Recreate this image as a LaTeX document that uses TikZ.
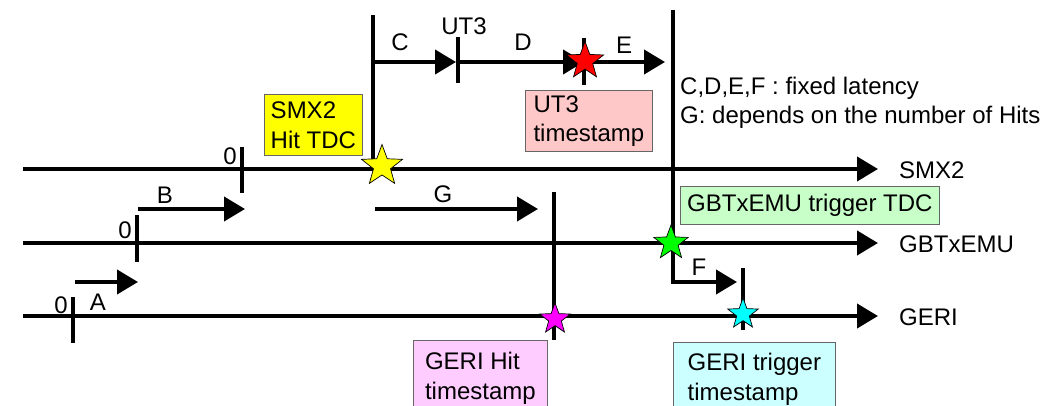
\documentclass[tikz,border=0pt]{standalone}
\usepackage{fontspec}
\setmainfont{Liberation Sans}
\usetikzlibrary{arrows.meta,shapes.geometric}

\definecolor{ut3pink}{HTML}{FFC8C8}
\definecolor{trggreen}{HTML}{C8FFC8}
\definecolor{geripink}{HTML}{FFCCFF}
\definecolor{gericyan}{HTML}{CCFFFF}
\definecolor{hityellow}{HTML}{FFFF00}
\definecolor{hitred}{HTML}{FF0000}
\definecolor{hitgreen}{HTML}{00FF00}
\definecolor{hitmagenta}{HTML}{FF00FF}
\definecolor{hitcyan}{HTML}{00FFFF}

\tikzset{
  tline/.style={line width=4pt},
  tarrow/.style={line width=4pt, -{Triangle[length=21pt,width=24pt]}},
  lbl/.style={inner sep=0pt, font=\fontsize{24}{29}\selectfont},
  infobox/.style={draw=black!60, line width=0.8pt, rectangle, align=left, anchor=north west, inner xsep=0pt, font=\fontsize{24}{30}\selectfont},
  hitstar/.style={star, star points=5, star point ratio=2.4, draw=black, line width=0.7pt, inner sep=0pt},
}

\begin{document}
\begin{tikzpicture}[x=1pt,y=-1pt]
\useasboundingbox (0,0) rectangle (1048,406);
\clip (0,0) rectangle (1048,406);

% time lines
\coordinate (smxL) at (23,169);  \coordinate (smxR) at (878,169);
\coordinate (gbtL) at (23,243);  \coordinate (gbtR) at (878,243);
\coordinate (geriL) at (23,316); \coordinate (geriR) at (878,316);
\draw[tarrow] (smxL) -- (smxR);
\draw[tarrow] (gbtL) -- (gbtR);
\draw[tarrow] (geriL) -- (geriR);
\node[lbl, anchor=west] (smx) at (899,170) {SMX2};
\node[lbl, anchor=west] (gbt) at (899,244) {GBTxEMU};
\node[lbl, anchor=west] (geri) at (899,317) {GERI};

% zero ticks and A, B
\coordinate (z1a) at (73,297);  \coordinate (z1b) at (73,343);
\coordinate (z2a) at (137,215); \coordinate (z2b) at (137,262);
\coordinate (z3a) at (242,147); \coordinate (z3b) at (242,193);
\draw[tline] (z1a) -- (z1b);
\draw[tline] (z2a) -- (z2b);
\draw[tline] (z3a) -- (z3b);
\node[lbl] (zero1) at (61,305) {0};
\node[lbl] (zero2) at (125,230) {0};
\node[lbl] (zero3) at (230,156) {0};
\coordinate (a1) at (75,282);  \coordinate (a2) at (138,282);
\coordinate (b1) at (138,209); \coordinate (b2) at (245,209);
\draw[tarrow] (a1) -- (a2);
\draw[tarrow] (b1) -- (b2);
\node[lbl] (lA) at (98,302) {A};
\node[lbl] (lB) at (165,195) {B};

% SMX2 hit -> UT3 -> GBTxEMU
\coordinate (hitTop) at (373,15); \coordinate (hitBot) at (373,169);
\draw[tline] (hitTop) -- (hitBot);
\coordinate (c1) at (373,62); \coordinate (c2) at (456,62);
\coordinate (u1) at (458,37); \coordinate (u2) at (458,83); \coordinate (um) at (458,62);
\coordinate (r1) at (584,38); \coordinate (r2) at (584,85); \coordinate (rm) at (584,62);
\coordinate (e2) at (665,62);
\draw[tarrow] (c1) -- (c2);
\draw[tline] (u1) -- (u2);
\draw[tarrow] (um) -- (rm);
\draw[tline] (r1) -- (r2);
\draw[tarrow] (rm) -- (e2);
\node[lbl] (lC) at (400,42) {C};
\node[lbl] (lUT) at (464,26) {UT3};
\node[lbl] (lD) at (523,42) {D};
\node[lbl] (lE) at (624,45) {E};

\coordinate (trgTop) at (673,10); \coordinate (trgBot) at (673,282);
\coordinate (f2) at (737,282);
\draw[tarrow, line join=miter] (trgTop) -- (trgBot) -- (f2);
\node[lbl] (lF) at (699,267) {F};
\coordinate (gt1) at (743,268); \coordinate (gt2) at (743,330);
\draw[tline] (gt1) -- (gt2);

\coordinate (g1) at (375,209); \coordinate (g2) at (538,209);
\draw[tarrow] (g1) -- (g2);
\node[lbl] (lG) at (443,194) {G};
\coordinate (gh1) at (554,192); \coordinate (gh2) at (554,340);
\draw[tline] (gh1) -- (gh2);

% note
\node[lbl, anchor=north west, align=left] (note) at (680,77)
  {C,D,E,F : fixed latency\\G: depends on the number of Hits};

% boxes
\node[infobox, fill=hityellow, minimum width=98pt, inner ysep=6.9pt] (smxTdc) at (264,94) {SMX2\\Hit TDC};
\node[infobox, fill=ut3pink, minimum width=127pt, inner ysep=4.9pt, font=\fontsize{24}{29}\selectfont] (ut3Ts) at (525,90) {UT3\\timestamp};
\node[infobox, fill=trggreen, minimum width=259pt, inner ysep=0pt, minimum height=38pt] (gbtTdc) at (680,186) {GBTxEMU trigger TDC};
\node[infobox, fill=geripink, minimum width=134pt, inner ysep=12pt] (geriHit) at (413,340) {GERI Hit\\timestamp};
\node[infobox, fill=gericyan, minimum width=162pt, inner ysep=11pt] (geriTrg) at (673,342) {GERI trigger\\timestamp};

% stars
\node[hitstar, fill=hityellow, minimum size=43pt] (sYel) at (382,166) {};
\node[hitstar, fill=hitred, minimum size=39pt] (sRed) at (585,61) {};
\node[hitstar, fill=hitgreen, minimum size=36pt] (sGrn) at (671,243) {};
\node[hitstar, fill=hitmagenta, minimum size=32pt] (sMag) at (555,319) {};
\node[hitstar, fill=hitcyan, minimum size=32pt] (sCya) at (743,314) {};
\end{tikzpicture}
\end{document}
